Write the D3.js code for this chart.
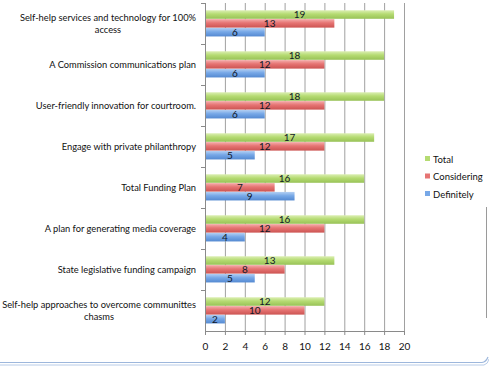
<!DOCTYPE html>
<html>
<head>
<meta charset="utf-8">
<script src="https://cdn.jsdelivr.net/npm/d3@7"></script>
<style>
  body { margin: 0; background: #fff; }
  svg { display: block; font-family: Lato, "Open Sans", sans-serif; }
</style>
</head>
<body>
<div id="chart"></div>
<script>
// categories top to bottom
var categories = [
    "Self-help services and technology for 100% access",
    "A Commission communications plan",
    "User-friendly innovation for courtroom.",
    "Engage with private philanthropy",
    "Total Funding Plan",
    "A plan for generating media coverage",
    "State legislative funding campaign",
    "Self-help approaches to overcome communittes chasms"
];
var series = ["Total", "Considering", "Definitely"];
var total = [19, 18, 18, 17, 16, 16, 13, 12];
var considering = [13, 12, 12, 12, 7, 12, 8, 10];
var definitely = [6, 6, 6, 5, 9, 4, 5, 2];
var xTicks = [0, 2, 4, 6, 8, 10, 12, 14, 16, 18, 20];

var W = 489, H = 366;
var colors = {
    Total: ["#dcefb4", "#b5db72", "#98c257"],
    Considering: ["#f4aeac", "#e67473", "#cc5452"],
    Definitely: ["#b4d0f3", "#77a8e7", "#5489d1"]
};

var svg = d3.select("#chart").append("svg")
    .attr("width", W).attr("height", H);

svg.append("rect").attr("width", W).attr("height", H).attr("fill", "#fff");

// gradients for the glossy bars
var defs = svg.append("defs");
series.forEach(function (s, i) {
    var g = defs.append("linearGradient")
        .attr("id", "grad" + i)
        .attr("x1", 0).attr("y1", 0).attr("x2", 0).attr("y2", 1);
    g.append("stop").attr("offset", "0%").attr("stop-color", colors[s][0]);
    g.append("stop").attr("offset", "45%").attr("stop-color", colors[s][1]);
    g.append("stop").attr("offset", "100%").attr("stop-color", colors[s][2]);
});

var x = d3.scaleLinear().domain([0, 20]).range([205, 404]);
var y = d3.scaleBand().domain(categories).range([3, 331]);
var bw = y.bandwidth();
var groupH = 26.5;
var yIn = d3.scaleBand().domain(series)
    .range([(bw - groupH) / 2, (bw + groupH) / 2]);

var rows = categories.map(function (c, i) {
    return { cat: c, vals: [total[i], considering[i], definitely[i]] };
});

// vertical grid lines
svg.append("g").selectAll("line")
    .data(xTicks.slice(1))
    .enter().append("line")
    .attr("x1", function (d) { return x(d) + 0.5; })
    .attr("x2", function (d) { return x(d) + 0.5; })
    .attr("y1", 3).attr("y2", 331)
    .attr("stroke", "#a0a0a0").attr("stroke-width", 1);

// bars
var groups = svg.append("g").selectAll("g")
    .data(rows)
    .enter().append("g")
    .attr("transform", function (d) { return "translate(0," + y(d.cat) + ")"; });

groups.selectAll("rect")
    .data(function (d) { return d.vals; })
    .enter().append("rect")
    .attr("x", x(0))
    .attr("y", function (d, i) { return yIn(series[i]); })
    .attr("width", function (d) { return x(d) - x(0); })
    .attr("height", yIn.bandwidth() - 0.3)
    .attr("fill", function (d, i) { return "url(#grad" + i + ")"; });

groups.selectAll("text")
    .data(function (d) { return d.vals; })
    .enter().append("text")
    .attr("x", function (d) { return (x(0) + x(d)) / 2; })
    .attr("y", function (d, i) { return yIn(series[i]) + yIn.bandwidth() / 2 + 3.5; })
    .attr("text-anchor", "middle")
    .attr("font-size", "10px")
    .attr("fill", "#111827")
    .text(function (d) { return d; });

// y axis line + ticks at band edges
svg.append("line")
    .attr("x1", 205.5).attr("x2", 205.5).attr("y1", 3).attr("y2", 331)
    .attr("stroke", "#8a8a8a");
svg.append("g").selectAll("line")
    .data(categories)
    .enter().append("line")
    .attr("x1", 201).attr("x2", 205)
    .attr("y1", function (d) { return y(d) + 0.5; })
    .attr("y2", function (d) { return y(d) + 0.5; })
    .attr("stroke", "#8a8a8a");

// category labels, wrapped; lines centred within a right-aligned block
var labels = svg.append("g").selectAll("text")
    .data(categories)
    .enter().append("text")
    .attr("text-anchor", "middle")
    .attr("font-size", "9.3px")
    .attr("fill", "#111");

labels.each(function (d) {
    var t = d3.select(this);
    var words = d.split(" ");
    var lines = [], line = [];
    var probe = t.append("tspan");
    words.forEach(function (w) {
        line.push(w);
        probe.text(line.join(" "));
        if (probe.node().getComputedTextLength() > 200 && line.length > 1) {
            line.pop();
            lines.push(line.join(" "));
            line = [w];
        }
    });
    lines.push(line.join(" "));
    var maxW = 0;
    lines.forEach(function (l) {
        probe.text(l);
        maxW = Math.max(maxW, probe.node().getComputedTextLength());
    });
    probe.remove();
    var lh = 11.5;
    var cx = 196 - maxW / 2;
    var cy = y(d) + bw / 2 - (lines.length - 1) * lh / 2 + 3.3;
    lines.forEach(function (l, i) {
        t.append("tspan").attr("x", cx).attr("y", cy + i * lh).text(l);
    });
});

// x axis
var xAxis = svg.append("g")
    .attr("transform", "translate(0,331)")
    .call(d3.axisBottom(x).tickValues(xTicks).tickSize(4).tickPadding(8));
xAxis.select(".domain").attr("stroke", "#8a8a8a");
xAxis.selectAll(".tick line").attr("stroke", "#8a8a8a");
xAxis.selectAll(".tick text")
    .attr("font-size", "10px")
    .attr("font-family", "Lato, sans-serif")
    .attr("fill", "#111");

// legend
var legend = svg.append("g").selectAll("g")
    .data(series)
    .enter().append("g")
    .attr("transform", function (d, i) { return "translate(425," + (159 + i * 17.5) + ")"; });
legend.append("rect")
    .attr("x", 0).attr("y", -3).attr("width", 5).attr("height", 5)
    .attr("fill", function (d) { return colors[d][1]; });
legend.append("text")
    .attr("x", 8).attr("y", 3.5)
    .attr("font-size", "9.5px")
    .attr("fill", "#111")
    .text(function (d) { return d; });

// window frame bits of the screenshot
svg.append("line")
    .attr("x1", 486.5).attr("x2", 486.5).attr("y1", 207).attr("y2", 318)
    .attr("stroke", "#9a9a9a");
svg.append("path")
    .attr("d", "M0,362.5 H482 Q486,362 488,357")
    .attr("fill", "none").attr("stroke", "#9db7dc").attr("stroke-width", 1.2);
svg.append("path")
    .attr("d", "M0,365 H484 Q488,364 489,359")
    .attr("fill", "none").attr("stroke", "#b8cce8").attr("stroke-width", 1);
</script>
</body>
</html>
